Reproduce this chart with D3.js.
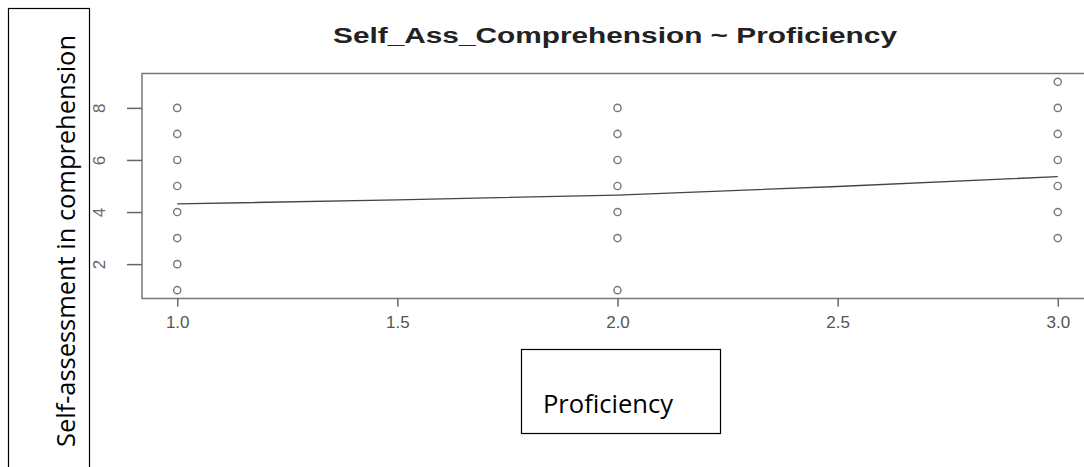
<!DOCTYPE html>
<html>
<head>
<meta charset="utf-8">
<script src="https://cdn.jsdelivr.net/npm/d3@7"></script>
<style>
  body { margin: 0; background: #fff; }
  svg { display: block; }
</style>
</head>
<body>
<div id="chart"></div>
<script>
// donnees
var proficiency = [1, 2, 3];
var scores1 = [1, 2, 3, 4, 5, 6, 7, 8];
var scores2 = [1, 3, 4, 5, 6, 7, 8];
var scores3 = [3, 4, 5, 6, 7, 8, 9];
var smoothX = [1, 1.5, 2, 2.5, 3];
var smoothY = [4.31, 4.47, 4.65, 4.98, 5.36];
var xTicks = [1.0, 1.5, 2.0, 2.5, 3.0];
var yTicks = [2, 4, 6, 8];

var width = 1084, height = 467;

var svg = d3.select("#chart").append("svg")
  .attr("width", width)
  .attr("height", height);

// zone du trace (domaines etendus de 4% comme R)
var plotLeft = 142, plotTop = 73.5, plotBottom = 298.5, plotRight = 1093;

var x = d3.scaleLinear().domain([0.92, 3.08]).range([plotLeft, plotRight]);
var y = d3.scaleLinear().domain([0.68, 9.32]).range([plotBottom, plotTop]);

var points = [];
[scores1, scores2, scores3].forEach(function(s, i){
  s.forEach(function(v){ points.push({x: proficiency[i], y: v}); });
});

svg.append("rect")
  .attr("x", plotLeft).attr("y", plotTop)
  .attr("width", plotRight - plotLeft).attr("height", plotBottom - plotTop)
  .attr("fill", "none").attr("stroke", "#777").attr("stroke-width", 1.5);

// axe x
var xAxis = d3.axisBottom(x).tickValues(xTicks).tickFormat(d3.format(".1f")).tickSize(8).tickPadding(9);
var gx = svg.append("g").attr("transform", "translate(0," + plotBottom + ")").call(xAxis);
gx.select(".domain").remove();
gx.selectAll("line").attr("stroke", "#666").attr("stroke-width", 1.5);
gx.selectAll("text").attr("fill", "#555").attr("font-family", "Liberation Sans, Arial, sans-serif").attr("font-size", 17);

// axe y (etiquettes tournees comme dans R)
var yAxis = d3.axisLeft(y).tickValues(yTicks).tickSize(15).tickFormat(d3.format("d"));
var gy = svg.append("g").attr("transform", "translate(" + plotLeft + ",0)").call(yAxis);
gy.select(".domain").remove();
gy.selectAll("line").attr("stroke", "#666").attr("stroke-width", 1.5);
gy.selectAll("text")
  .attr("x", 0).attr("dy", null)
  .attr("transform", "translate(-43,0) rotate(-90)")
  .attr("text-anchor", "middle")
  .attr("dominant-baseline", "central")
  .attr("fill", "#666")
  .attr("font-family", "Liberation Sans, Arial, sans-serif")
  .attr("font-size", 17);

// points
svg.append("g").selectAll("circle")
  .data(points)
  .enter().append("circle")
  .attr("cx", function(d){ return x(d.x); })
  .attr("cy", function(d){ return y(d.y); })
  .attr("r", 3.6)
  .attr("fill", "none")
  .attr("stroke", "#777")
  .attr("stroke-width", 1.4);

// courbe lissee
var smooth = smoothX.map(function(v, i){ return {x: v, y: smoothY[i]}; });
var line = d3.line().x(function(d){ return x(d.x); }).y(function(d){ return y(d.y); });
svg.append("path")
  .datum(smooth)
  .attr("d", line)
  .attr("fill", "none")
  .attr("stroke", "#444")
  .attr("stroke-width", 1.3);

// titre
svg.append("text")
  .attr("x", 615).attr("y", 43)
  .attr("text-anchor", "middle")
  .attr("font-family", "Liberation Sans, Arial, sans-serif")
  .attr("font-weight", "bold")
  .attr("font-size", 22)
  .attr("textLength", 564)
  .attr("lengthAdjust", "spacingAndGlyphs")
  .attr("fill", "#222")
  .text("Self_Ass_Comprehension ~ Proficiency");

// boite titre axe y
svg.append("rect")
  .attr("x", 8.5).attr("y", 8.5).attr("width", 81).attr("height", 470)
  .attr("fill", "none").attr("stroke", "#000").attr("stroke-width", 1.2);
svg.append("text")
  .attr("transform", "translate(75,241) rotate(-90)")
  .attr("text-anchor", "middle")
  .attr("font-family", "Open Sans, sans-serif")
  .attr("font-size", 26)
  .attr("textLength", 412)
  .attr("lengthAdjust", "spacingAndGlyphs")
  .attr("fill", "#000")
  .text("Self-assessment in comprehension");

// boite titre axe x
svg.append("rect")
  .attr("x", 521.5).attr("y", 349.5).attr("width", 199).attr("height", 84)
  .attr("fill", "none").attr("stroke", "#000").attr("stroke-width", 1.2);
svg.append("text")
  .attr("x", 543).attr("y", 413)
  .attr("font-family", "Open Sans, sans-serif")
  .attr("font-size", 25)
  .attr("textLength", 130)
  .attr("lengthAdjust", "spacingAndGlyphs")
  .attr("fill", "#000")
  .text("Proficiency");
</script>
</body>
</html>
